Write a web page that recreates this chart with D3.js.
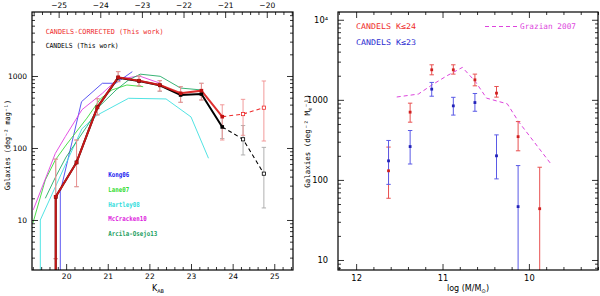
<!DOCTYPE html>
<html>
<head>
<meta charset="utf-8">
<script src="https://cdn.jsdelivr.net/npm/d3@7"></script>
<style>
  body { margin: 0; background: #fff; }
  text { font-family: "DejaVu Sans", sans-serif; }
  .mono { font-family: "DejaVu Sans Mono", monospace; }
  .axis path.domain { display: none; }
  .axis line { stroke: #000; stroke-width: 0.8; }
</style>
</head>
<body>
<div id="chart"></div>
<script>
//----------------------------------//
// left panel: counts vs K_AB
var kBins = [19.75, 20.25, 20.75, 21.25, 21.75, 22.25, 22.75, 23.25, 23.75, 24.25, 24.75];
var candels = [21, 63, 367, 947, 852, 742, 545, 562, 196, 132, 44];
var candelsLo = [2.9, 29, 288, 834, 730, 610, 431, 464, 135, 80, 14.7];
var candelsHi = [70, 129, 484, 1150, 1000, 861, 710, 792, 280, 205, 102];
var corrected = [21, 63, 367, 960, 860, 750, 575, 625, 272, 296, 363];
var correctedLo = [2.9, 29, 288, 834, 730, 620, 431, 464, 129, 150, 125];
var correctedHi = [70, 129, 484, 1150, 1000, 861, 710, 792, 398, 474, 852];

// literature counts (0 = empty bin)
var kong06K = [19.86, 19.86, 20.37, 20.87, 21.19, 21.59];
var kong06N = [0, 24.7, 440, 792, 792, 1148];
var lane07K = [19.2, 19.5, 19.74, 20.0, 20.5, 20.82, 21.1, 21.46, 21.85];
var lane07N = [9, 36, 68, 110, 260, 480, 640, 750, 710];
var hartley08K = [19.38, 19.38, 19.98, 20.38, 20.75, 21.5, 22.4, 23.0, 23.42];
var hartley08N = [0, 10, 58, 185, 287, 490, 480, 270, 72];
var mccracken10K = [19.21, 19.74, 19.98, 20.38, 20.87, 21.23, 21.76, 22.26];
var mccracken10N = [13.8, 84, 144, 340, 575, 900, 1000, 792];
var arcila13K = [19.5, 19.75, 20.0, 20.5, 20.8, 21.2, 21.5, 21.78, 22.26, 22.75, 23.25];
var arcila13N = [20, 40, 75, 200, 380, 640, 880, 1060, 990, 680, 640];

var kTicks = [20, 21, 22, 23, 24, 25];
var absMagTicks = [-25, -24, -23, -22, -21, -20];
var kToAbs = 44.82; // M = K - 44.82 on the top axis
var countTicks = [10, 100, 1000];

// right panel: counts vs stellar mass
var massBins = [11.625, 11.375, 11.125, 10.875, 10.625, 10.375, 10.125, 9.875];
var k24 = [130, 702, 2371, 2371, 1778, 1212, 347, 43.7];
var k24Lo = [59, 526, 2053, 2095, 1496, 1081, 231, 0];
var k24Hi = [257, 909, 2738, 2738, 2095, 1468, 535, 144];
var k23 = [173, 261, 1360, 841, 925, 200, 46.4];
var k23Lo = [88, 158, 1110, 645, 720, 103, 0];
var k23Hi = [311, 414, 1650, 1075, 1200, 365, 151];
var grazianM = [11.53, 11.28, 11.12, 10.95, 10.77, 10.62, 10.49, 10.25, 10.12, 9.75];
var grazianN = [1085, 1180, 1540, 1995, 2540, 1692, 1050, 891, 535, 161];

var massTicks = [12, 11, 10];
var massCountTicks = [10, 100, 1000, 10000];

//----------------------------------//
var svg = d3.select("#chart").append("svg")
  .attr("width", 600)
  .attr("height", 296);

var left = {x: 32, y: 12, w: 261, h: 258};
var right = {x: 338, y: 12, w: 260, h: 258};

var red = "#ee2b2b", redLight = "#f09090", grey = "#a8a8a8";
var blue = "#2222b8", blueBar = "#5a5ae6";

function logMinors(domain) {
  var out = [];
  for (var p = 0; p < 5; p++) {
    for (var m = 2; m < 10; m++) {
      var v = m * Math.pow(10, p);
      if (v > domain[0] && v < domain[1]) out.push(v);
    }
  }
  return out;
}

function yClamp(y) {
  // empty bins are drawn at the bottom edge
  return function(v) { return v > 0 ? y(v) : y.range()[0] + 2; };
}

function drawAxes(g, x, y, w, h, o) {
  var fmt = function() { return ""; };
  // bottom
  g.append("g").attr("class", "axis").attr("transform", `translate(0,${h})`)
    .call(d3.axisBottom(x).tickValues(o.xMajor).tickSize(-6).tickSizeOuter(0)
      .tickPadding(o.bPad).tickFormat(d3.format("d")));
  g.append("g").attr("class", "axis").attr("transform", `translate(0,${h})`)
    .call(d3.axisBottom(x).tickValues(o.xMinor).tickSize(-3).tickSizeOuter(0).tickFormat(fmt));
  // top
  var topScale = o.xTop || x;
  g.append("g").attr("class", "axis")
    .call(d3.axisTop(topScale).tickValues(o.topMajor || o.xMajor).tickSize(-6).tickSizeOuter(0)
      .tickPadding(4).tickFormat(o.xTop ? d3.format("d") : fmt));
  g.append("g").attr("class", "axis")
    .call(d3.axisTop(topScale).tickValues(o.topMinor || o.xMinor).tickSize(-3).tickSizeOuter(0).tickFormat(fmt));
  // left / right
  g.append("g").attr("class", "axis")
    .call(d3.axisLeft(y).tickValues(o.yMajor).tickSize(-6).tickSizeOuter(0)
      .tickPadding(o.lPad).tickFormat(o.yFormat));
  g.append("g").attr("class", "axis")
    .call(d3.axisLeft(y).tickValues(logMinors(y.domain())).tickSize(-3).tickSizeOuter(0).tickFormat(fmt));
  g.append("g").attr("class", "axis").attr("transform", `translate(${w},0)`)
    .call(d3.axisRight(y).tickValues(o.yMajor).tickSize(-6).tickSizeOuter(0).tickFormat(fmt));
  g.append("g").attr("class", "axis").attr("transform", `translate(${w},0)`)
    .call(d3.axisRight(y).tickValues(logMinors(y.domain())).tickSize(-3).tickSizeOuter(0).tickFormat(fmt));

  g.selectAll(".axis text").attr("font-size", o.fontSize).attr("fill", "#000");

  g.append("rect")
    .attr("width", w).attr("height", h)
    .attr("fill", "none").attr("stroke", "#000").attr("stroke-width", 1.2);
}

function errorBars(g, x, yv, xs, lo, hi, color, width) {
  xs.forEach(function(k, i) {
    if (lo[i] === undefined) return;
    var cx = x(k), y1 = yv(lo[i]), y2 = yv(hi[i]);
    g.append("line").attr("x1", cx).attr("x2", cx).attr("y1", y1).attr("y2", y2)
      .attr("stroke", color).attr("stroke-width", width);
    [y2].concat(lo[i] > 0 ? [y1] : []).forEach(function(yy) {
      g.append("line").attr("x1", cx - 2.2).attr("x2", cx + 2.2).attr("y1", yy).attr("y2", yy)
        .attr("stroke", color).attr("stroke-width", width);
    });
  });
}

//----------------------------------//
// LEFT PANEL
var gL = svg.append("g").attr("transform", `translate(${left.x},${left.y})`);

var xL = d3.scaleLinear().domain([19.18, 25.45]).range([0, left.w]);
var xTopL = d3.scaleLinear().domain([19.18 - kToAbs, 25.45 - kToAbs]).range([0, left.w]);
var yL = d3.scaleLog().domain([2.02, 7740]).range([left.h, 0]);
var yLv = yClamp(yL);

svg.append("clipPath").attr("id", "clipL").append("rect")
  .attr("width", left.w).attr("height", left.h);
var plotL = gL.append("g").attr("clip-path", "url(#clipL)");

var lineL = d3.line().x(d => xL(d[0])).y(d => yLv(d[1]));

var literature = [
  {name: "Kong06", k: kong06K, n: kong06N, color: "#4a44f0"},
  {name: "Lane07", k: lane07K, n: lane07N, color: "#3ada3a"},
  {name: "Hartley08", k: hartley08K, n: hartley08N, color: "#3ee0e0"},
  {name: "McCracken10", k: mccracken10K, n: mccracken10N, color: "#e040e0"},
  {name: "Arcila-Osejo13", k: arcila13K, n: arcila13N, color: "#22aa66"}
];

literature.forEach(function(s) {
  plotL.append("path")
    .datum(s.k.map((k, i) => [k, s.n[i]]))
    .attr("d", lineL)
    .attr("fill", "none")
    .attr("stroke", s.color)
    .attr("stroke-width", 0.9);
});

// error bars
errorBars(plotL, xL, yLv, kBins, candelsLo, candelsHi, grey, 0.9);
errorBars(plotL, xL, yLv, kBins, correctedLo, correctedHi, redLight, 0.9);

var nSolid = 9; // bins up to K=23.75 are complete
var blackPts = kBins.map((k, i) => [k, candels[i]]);
var redPts = kBins.map((k, i) => [k, corrected[i]]);

// black line
plotL.append("path").datum([[kBins[0], 0]].concat(blackPts.slice(0, nSolid)))
  .attr("d", lineL).attr("fill", "none").attr("stroke", "#000").attr("stroke-width", 2);
plotL.append("path").datum(blackPts.slice(nSolid - 1))
  .attr("d", lineL).attr("fill", "none").attr("stroke", "#000").attr("stroke-width", 1.1)
  .attr("stroke-dasharray", "4,3");

// red line on top
plotL.append("path").datum([[kBins[0], 0]].concat(redPts.slice(0, nSolid)))
  .attr("d", lineL).attr("fill", "none").attr("stroke", "#dc1a1a").attr("stroke-width", 2)
  .attr("stroke-opacity", 0.9);
plotL.append("path").datum(redPts.slice(nSolid - 1))
  .attr("d", lineL).attr("fill", "none").attr("stroke", red).attr("stroke-width", 1.1)
  .attr("stroke-dasharray", "4,3");

// markers
function squares(g, pts, fill, stroke, s) {
  g.selectAll(null).data(pts).enter().append("rect")
    .attr("x", d => xL(d[0]) - s / 2)
    .attr("y", d => yLv(d[1]) - s / 2)
    .attr("width", s).attr("height", s)
    .attr("fill", fill).attr("stroke", stroke).attr("stroke-width", 0.8);
}
squares(plotL, blackPts.slice(0, nSolid), "#000", "none", 3.6);
squares(plotL, blackPts.slice(nSolid), "#fff", "#000", 3.2);
squares(plotL, redPts.slice(0, nSolid), "#c01010", "none", 3.6);
squares(plotL, redPts.slice(nSolid), "#fff", red, 3.2);

drawAxes(gL, xL, yL, left.w, left.h, {
  xMajor: kTicks,
  xMinor: d3.range(96, 128).map(i => i / 5).filter(v => v % 1 !== 0 && v > 19.18 && v < 25.45),
  xTop: xTopL,
  topMajor: absMagTicks,
  topMinor: d3.range(-128, -96).map(i => i / 5).filter(v => v % 1 !== 0 && v > 19.18 - kToAbs && v < 25.45 - kToAbs),
  yMajor: countTicks,
  yFormat: d3.format("d"),
  bPad: 4, lPad: 5, fontSize: 7.5
});

// legends
gL.append("text").attr("class", "mono").attr("x", 13.7).attr("y", 21.5)
  .attr("font-size", 7).attr("fill", red)
  .attr("textLength", 118).attr("lengthAdjust", "spacingAndGlyphs")
  .text("CANDELS-CORRECTED (This work)");
gL.append("text").attr("class", "mono").attr("x", 13.7).attr("y", 35.5)
  .attr("font-size", 7).attr("fill", "#000")
  .attr("textLength", 73).attr("lengthAdjust", "spacingAndGlyphs")
  .text("CANDELS (This work)");

var legendColors = ["#2020f0", "#33dd33", "#33dddd", "#dd22dd", "#1a9e60"];
literature.forEach(function(s, i) {
  gL.append("text").attr("class", "mono")
    .attr("x", 76.3).attr("y", 165.3 + i * 14.6)
    .attr("font-size", 6.8).attr("font-weight", "bold").attr("fill", legendColors[i])
    .attr("textLength", s.name.length * 3.5).attr("lengthAdjust", "spacingAndGlyphs")
    .text(s.name);
});

// axis titles
var kLabel = svg.append("text").attr("x", 158).attr("y", 291)
  .attr("text-anchor", "middle").attr("font-size", 8);
kLabel.append("tspan").text("K");
kLabel.append("tspan").attr("font-size", 5).attr("dy", 2).text("AB");

svg.append("text").attr("class", "mono")
  .attr("transform", "translate(10,145) rotate(-90)")
  .attr("text-anchor", "middle").attr("font-size", 7.5)
  .attr("textLength", 90).attr("lengthAdjust", "spacingAndGlyphs")
  .text("Galaxies  (deg\u207B\u00B2 mag\u207B\u00B9)");

//----------------------------------//
// RIGHT PANEL
var gR = svg.append("g").attr("transform", `translate(${right.x},${right.y})`);

var xR = d3.scaleLinear().domain([12.21, 9.2]).range([0, right.w]);
var yR = d3.scaleLog().domain([7.5, 12500]).range([right.h, 0]);
var yRv = yClamp(yR);

svg.append("clipPath").attr("id", "clipR").append("rect")
  .attr("width", right.w).attr("height", right.h);
var plotR = gR.append("g").attr("clip-path", "url(#clipR)");

// Grazian 2007
plotR.append("path")
  .datum(grazianM.map((m, i) => [m, grazianN[i]]))
  .attr("d", d3.line().x(d => xR(d[0])).y(d => yR(d[1])))
  .attr("fill", "none").attr("stroke", "#dd44dd").attr("stroke-width", 1)
  .attr("stroke-dasharray", "4,3");

errorBars(plotR, xR, yRv, massBins, k24Lo, k24Hi, "#e85050", 1);
errorBars(plotR, xR, yRv, massBins.slice(0, k23.length), k23Lo, k23Hi, blueBar, 1);

plotR.selectAll(null).data(massBins.map((m, i) => [m, k24[i]])).enter().append("rect")
  .attr("x", d => xR(d[0]) - 1.4).attr("y", d => yR(d[1]) - 1.4)
  .attr("width", 2.8).attr("height", 2.8).attr("fill", "#d02020");
plotR.selectAll(null).data(k23.map((v, i) => [massBins[i], v])).enter().append("rect")
  .attr("x", d => xR(d[0]) - 1.4).attr("y", d => yR(d[1]) - 1.4)
  .attr("width", 2.8).attr("height", 2.8).attr("fill", blue);

drawAxes(gR, xR, yR, right.w, right.h, {
  xMajor: massTicks,
  xMinor: d3.range(46, 62).map(i => i / 5).filter(v => v % 1 !== 0),
  yMajor: massCountTicks,
  yFormat: v => v === 10000 ? "10\u2074" : d3.format("d")(v),
  bPad: 5, lPad: 10, fontSize: 8.3
});

// legends
gR.append("text").attr("class", "mono").attr("x", 18).attr("y", 17)
  .attr("font-size", 7.8).attr("fill", red)
  .attr("textLength", 60).attr("lengthAdjust", "spacingAndGlyphs")
  .text("CANDELS K\u226424");
gR.append("text").attr("class", "mono").attr("x", 18).attr("y", 33)
  .attr("font-size", 7.8).attr("fill", "#2a2ad0")
  .attr("textLength", 60).attr("lengthAdjust", "spacingAndGlyphs")
  .text("CANDELS K\u226423");
gR.append("line").attr("x1", 147).attr("x2", 181).attr("y1", 14.5).attr("y2", 14.5)
  .attr("stroke", "#dd44dd").attr("stroke-width", 1).attr("stroke-dasharray", "4,3");
gR.append("text").attr("class", "mono").attr("x", 182).attr("y", 17)
  .attr("font-size", 7.8).attr("fill", "#dd44dd")
  .attr("textLength", 56).attr("lengthAdjust", "spacingAndGlyphs")
  .text("Grazian 2007");

// axis titles
var mLabel = svg.append("text").attr("x", 468).attr("y", 291)
  .attr("text-anchor", "middle").attr("font-size", 8)
  .attr("font-family", "DejaVu Serif, serif");
mLabel.append("tspan").text("log (M/M");
mLabel.append("tspan").attr("font-size", 5.5).attr("dy", 2).text("\u2299");
mLabel.append("tspan").attr("dy", -2).text(")");

var yRLabel = svg.append("text").attr("class", "mono")
  .attr("transform", "translate(310,141) rotate(-90)")
  .attr("text-anchor", "middle").attr("font-size", 7.5);
yRLabel.append("tspan").text("Galaxies  (deg\u207B\u00B2 M");
yRLabel.append("tspan").attr("font-size", 5.5).attr("dy", 1.5).text("\u2299");
yRLabel.append("tspan").attr("dy", -1.5).text("\u207B\u00B9)");
</script>
</body>
</html>
